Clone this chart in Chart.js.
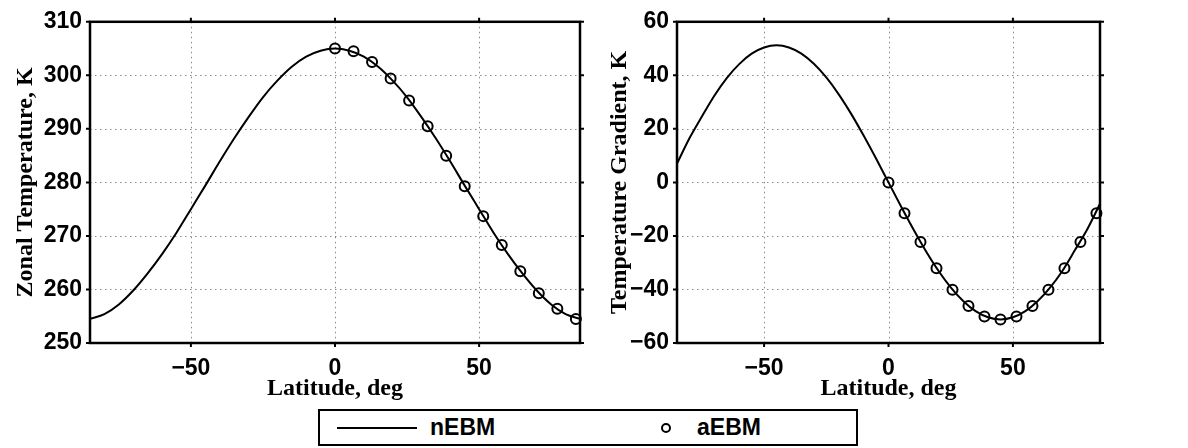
<!DOCTYPE html>
<html>
<head>
<meta charset="utf-8">
<title>nEBM vs aEBM</title>
<script src="https://cdn.jsdelivr.net/npm/chart.js@4/dist/chart.umd.min.js"></script>
<style>
  html, body { margin: 0; padding: 0; background: #fff; }
  #page { position: relative; width: 1188px; height: 448px; overflow: hidden; }
  #temp-chart { position: absolute; left: 0; top: 0; }
  #grad-chart { position: absolute; left: 594px; top: 0; }
  #legend {
    position: absolute; left: 318px; top: 409px; width: 540px; height: 37px;
    box-sizing: border-box; border: 2px solid #000; background: #fff;
    font: bold 23px "Liberation Sans", Arial, sans-serif; color: #000;
  }
  #legend .line { position: absolute; left: 17px; top: 16px; width: 80px; height: 2px; background: #000; }
  #legend .dot {
    position: absolute; left: 341px; top: 12px; width: 10px; height: 10px;
    box-sizing: border-box; border: 2px solid #000; border-radius: 50%;
  }
  #legend .lbl { position: absolute; top: 0; line-height: 33px; }
</style>
</head>
<body>
<div id="page">
  <canvas id="temp-chart" width="594" height="405"></canvas>
  <canvas id="grad-chart" width="520" height="405"></canvas>
  <div id="legend">
    <span class="line"></span><span class="lbl" style="left:110px">nEBM</span>
    <span class="dot"></span><span class="lbl" style="left:377px">aEBM</span>
  </div>
</div>
<script>
// latitude (deg) for the continuous nEBM curves
var curveLat = [-85, -80, -75, -70, -65, -60, -55, -50, -45, -40, -35, -30, -25, -20, -15, -10, -5,
  0, 5, 10, 15, 20, 25, 30, 35, 40, 45, 50, 55, 60, 65, 70, 75, 80, 85];

// zonal temperature, K (nEBM)
var tempCurve = [254.5, 255.4, 257.2, 259.8, 263.0, 266.6, 270.6, 275.0, 279.4, 283.9, 288.2, 292.2, 295.9, 299.0, 301.6, 303.5, 304.6,
  305.0, 304.6, 303.5, 301.6, 299.0, 295.9, 292.2, 288.2, 283.9, 279.4, 275.0, 270.6, 266.6, 263.0, 259.8, 257.2, 255.4, 254.5];

// temperature gradient, K (nEBM)
var gradCurve = [7.0, 16.5, 24.6, 32.4, 39.0, 44.2, 48.1, 50.4, 51.2, 50.4, 48.1, 44.3, 39.2, 32.9, 25.6, 17.5, 8.9,
  0.0, -8.9, -17.5, -25.6, -32.9, -39.2, -44.3, -48.1, -50.4, -51.2, -50.4, -48.1, -44.3, -39.2, -32.9, -25.2, -17.3, -8.0];

// aEBM points
var markerLat = [0, 6.43, 12.86, 19.29, 25.71, 32.14, 38.57, 45, 51.43, 57.86, 64.29, 70.71, 77.14, 83.57];
var tempMarkers = [305.0, 304.5, 302.5, 299.4, 295.3, 290.5, 285.0, 279.3, 273.7, 268.3, 263.4, 259.3, 256.4, 254.5];
var gradMarkers = [0.0, -11.5, -22.3, -32.1, -40.1, -46.2, -50.1, -51.2, -50.1, -46.2, -40.1, -32.1, -22.3, -11.5];

var latTicks = [-50, 0, 50];
var tempTicks = [250, 260, 270, 280, 290, 300, 310];
var gradTicks = [-60, -40, -20, 0, 20, 40, 60];

var sansFont = '"Liberation Sans", Arial, sans-serif';
var serifFont = '"Liberation Serif", "Times New Roman", serif';

function pairs(xs, ys) {
  return xs.map(function (x, i) {
    return { x: x, y: ys[i] };
  });
}

function minusLabel(v) {
  return String(v).replace("-", "\u2212");
}

// dotted grid, heavy box and short outward ticks on all four sides
var framePlugin = {
  id: "frame",
  beforeDatasetsDraw: function (chart) {
    var ctx = chart.ctx;
    var a = chart.chartArea;
    var xs = chart.scales.x;
    var ys = chart.scales.y;
    ctx.save();
    ctx.strokeStyle = "#8a8a8a";
    ctx.lineWidth = 1;
    ctx.setLineDash([1.5, 3.5]);
    xs.ticks.forEach(function (t) {
      var px = Math.round(xs.getPixelForValue(t.value)) + 0.5;
      ctx.beginPath();
      ctx.moveTo(px, a.top);
      ctx.lineTo(px, a.bottom);
      ctx.stroke();
    });
    ys.ticks.forEach(function (t) {
      var py = Math.round(ys.getPixelForValue(t.value)) + 0.5;
      ctx.beginPath();
      ctx.moveTo(a.left, py);
      ctx.lineTo(a.right, py);
      ctx.stroke();
    });
    ctx.setLineDash([]);
    ctx.strokeStyle = "#000";
    ctx.lineWidth = 2.5;
    ctx.strokeRect(a.left, a.top, a.right - a.left, a.bottom - a.top);
    ctx.lineWidth = 2;
    xs.ticks.forEach(function (t) {
      var px = xs.getPixelForValue(t.value);
      ctx.beginPath();
      ctx.moveTo(px, a.top);
      ctx.lineTo(px, a.top - 4);
      ctx.moveTo(px, a.bottom);
      ctx.lineTo(px, a.bottom + 4);
      ctx.stroke();
    });
    ys.ticks.forEach(function (t) {
      var py = ys.getPixelForValue(t.value);
      ctx.beginPath();
      ctx.moveTo(a.left, py);
      ctx.lineTo(a.left - 4, py);
      ctx.moveTo(a.right, py);
      ctx.lineTo(a.right + 4, py);
      ctx.stroke();
    });
    ctx.restore();
  },
};

function makeChart(canvasId, curve, markers, yMin, yMax, yTicks, yTitle, yWidth) {
  return new Chart(document.getElementById(canvasId), {
    type: "line",
    data: {
      datasets: [
        {
          label: "nEBM",
          data: pairs(curveLat, curve),
          borderColor: "#000",
          borderWidth: 2,
          pointRadius: 0,
          fill: false,
          cubicInterpolationMode: "monotone",
        },
        {
          label: "aEBM",
          data: pairs(markerLat, markers),
          showLine: false,
          pointRadius: 5,
          pointBorderWidth: 2,
          pointBorderColor: "#000",
          pointBackgroundColor: "rgba(0,0,0,0)",
          clip: false,
        },
      ],
    },
    options: {
      responsive: false,
      animation: false,
      layout: { padding: { top: 15, right: 14, bottom: 2, left: 0 } },
      plugins: { legend: { display: false }, tooltip: { enabled: false } },
      scales: {
        x: {
          type: "linear",
          min: -85,
          max: 85,
          afterBuildTicks: function (scale) {
            scale.ticks = latTicks.map(function (v) { return { value: v }; });
          },
          afterFit: function (scale) { scale.height = 60; },
          grid: { display: false, drawTicks: false },
          border: { display: false },
          ticks: {
            padding: 12,
            color: "#000",
            maxRotation: 0,
            font: { family: sansFont, size: 23, weight: "bold" },
            callback: minusLabel,
          },
          title: {
            display: true,
            text: "Latitude, deg",
            color: "#000",
            padding: { top: 0, bottom: 0 },
            font: { family: serifFont, size: 24, weight: "bold" },
          },
        },
        y: {
          type: "linear",
          min: yMin,
          max: yMax,
          afterBuildTicks: function (scale) {
            scale.ticks = yTicks.map(function (v) { return { value: v }; });
          },
          afterFit: function (scale) { scale.width = yWidth; },
          grid: { display: false, drawTicks: false },
          border: { display: false },
          ticks: {
            padding: 8,
            color: "#000",
            font: { family: sansFont, size: 23, weight: "bold" },
            callback: minusLabel,
          },
          title: {
            display: true,
            text: yTitle,
            color: "#000",
            padding: { top: 11, bottom: 0 },
            font: { family: serifFont, size: 24, weight: "bold" },
          },
        },
      },
    },
    plugins: [framePlugin],
  });
}

document.addEventListener("DOMContentLoaded", function () {
  makeChart("temp-chart", tempCurve, tempMarkers, 250, 310, tempTicks, "Zonal Temperature, K", 90);
  makeChart("grad-chart", gradCurve, gradMarkers, -60, 60, gradTicks, "Temperature Gradient, K", 83);
});
</script>
</body>
</html>
